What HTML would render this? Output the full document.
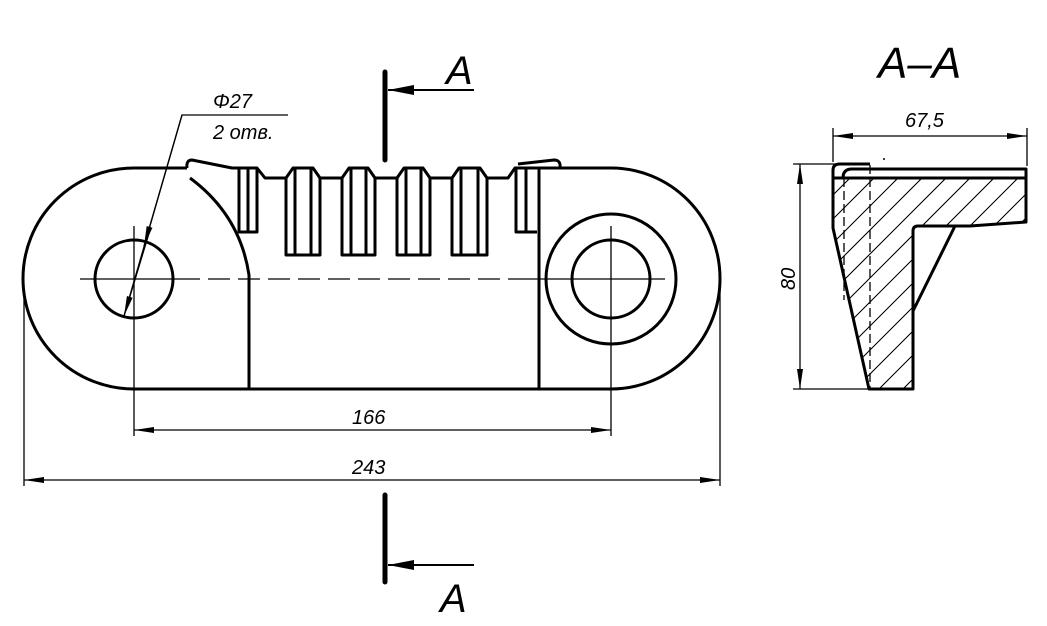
<!DOCTYPE html>
<html><head><meta charset="utf-8"><style>
html,body{margin:0;padding:0;background:#fff;}
svg{display:block;}
text{font-family:"Liberation Sans",sans-serif;font-style:italic;fill:#000;}
</style></head><body>
<svg width="1047" height="626" viewBox="0 0 1047 626" xmlns="http://www.w3.org/2000/svg">
<defs>
<marker id="ar" viewBox="0 0 20 6" refX="20" refY="3" markerWidth="20" markerHeight="6" markerUnits="userSpaceOnUse" orient="auto-start-reverse"><path d="M0,0 L20,3 L0,6 z" fill="#000"/></marker>
<marker id="ab" viewBox="0 0 26 10" refX="26" refY="5" markerWidth="26" markerHeight="10" markerUnits="userSpaceOnUse" orient="auto"><path d="M0,0 L26,5 L0,10 z" fill="#000"/></marker>
<clipPath id="sec"><path d="M833,178 L1026,178 L1026,222 L970,226 L918,226 Q913,226 913,231 L913,389 L869,389 L833,228 Z"/></clipPath>
</defs>
<g fill="none" stroke="#000">
<g stroke-width="3" stroke-linejoin="round">
<path d="M187,168 L134,168 A111,110.5 0 0 0 134,389 L611,389 A109,110.5 0 0 0 611,168 L560,168"/>
<path d="M187,168 Q186,160 192,160 L232,168 L238,168"/>
<path d="M190,178 Q240,215 249,275 L249,389"/>
<path d="M539,168 L539,389"/>
<path d="M518,164 L554,160 Q561,160 560,168 L539,168"/>
<circle cx="134" cy="279" r="39"/>
<circle cx="611" cy="279" r="39"/>
<circle cx="611" cy="279" r="65"/>
<path d="M238,168 L257,168 L265,178 L286,178 L293,168 L313,168 L320,178 L342,178 L349,168 L368,168 L375,178 L397,178 L404,168 L423,168 L430,178 L452,178 L459,168 L480,168 L487,178 L508,178 L515,168 L539,168"/>
<path d="M239,168 L239,232 L257,232 L257,168 M248,168 L248,232"/>
<path d="M516,168 L516,232 L537,232 M526,168 L526,232"/>
<path d="M286,178 L286,255 L320,255 L320,178 M295,168 L295,255 M311,168 L311,255"/>
<path d="M342,178 L342,255 L375,255 L375,178 M351,168 L351,255 M366,168 L366,255"/>
<path d="M397,178 L397,255 L430,255 L430,178 M406,168 L406,255 M421,168 L421,255"/>
<path d="M452,178 L452,255 L487,255 L487,178 M461,168 L461,255 M478,168 L478,255"/>
</g>
<g stroke-width="1.3">
<path d="M80,279 L178,279" />
<path d="M178,279 L520,279" stroke-dasharray="22,8"/>
<path d="M520,279 L665,279"/>
<path d="M134,226 L134,436 M611,226 L611,436"/>
<path d="M24,290 L24,486 M720,290 L720,486"/>
<path d="M134,430 L611,430" marker-start="url(#ar)" marker-end="url(#ar)"/>
<path d="M24,480 L720,480" marker-start="url(#ar)" marker-end="url(#ar)"/>
<path d="M288,115 L182,115 L124,316"/>
<path d="M182,115 L144,246" marker-end="url(#ar)"/>
<path d="M150,230 L124,316" marker-end="url(#ar)"/>
</g>
<path d="M385,72 L385,160 M385,495 L385,582" stroke-width="5" stroke-linecap="round"/>
<path d="M474,90 L388,90" stroke-width="2" marker-end="url(#ab)"/>
<path d="M474,565 L388,565" stroke-width="2" marker-end="url(#ab)"/>
<g clip-path="url(#sec)" stroke-width="1.1">
<path d="M554,450 L854,150 M578,450 L878,150 M602,450 L902,150 M626,450 L926,150 M650,450 L950,150 M674,450 L974,150 M698,450 L998,150 M722,450 L1022,150 M746,450 L1046,150 M770,450 L1070,150 M794,450 L1094,150 M818,450 L1118,150 M842,450 L1142,150 M866,450 L1166,150 M890,450 L1190,150 M914,450 L1214,150 M938,450 L1238,150 M962,450 L1262,150"/>
</g>
<g stroke-width="3" stroke-linejoin="round">
<path d="M833,178 L1026,178 L1026,222 L970,226 L918,226 Q913,226 913,231 L913,389 L869,389 L833,228 Z"/>
<path d="M833,178 L833,170 Q833,164 840,164 L870,164"/>
<path d="M843,178 Q843,169 852,169 L1026,169 L1026,178"/>
<path d="M955,226 L913,311"/>
</g>
<path d="M844,178 L844,300 M870,165 L870,389" stroke-width="1.3" stroke-dasharray="9,4"/>
<g stroke-width="1.3">
<path d="M833,128 L833,162 M1027,128 L1027,166"/>
<path d="M833,136 L1027,136" marker-start="url(#ar)" marker-end="url(#ar)"/>
<path d="M793,164 L870,164 M793,389 L869,389"/>
<path d="M800,164 L800,389" marker-start="url(#ar)" marker-end="url(#ar)"/>
</g>
</g>
<circle cx="884" cy="159" r="1" fill="#000"/>
<text x="446" y="84" font-size="40">A</text>
<text x="440" y="612" font-size="40">A</text>
<text x="878" y="78" font-size="44">A–A</text>
<text x="213" y="108" font-size="20">Φ27</text>
<text x="213" y="139" font-size="20">2 отв.</text>
<text x="352" y="424" font-size="20">166</text>
<text x="352" y="474" font-size="20">243</text>
<text x="905" y="127" font-size="20">67,5</text>
<text x="0" y="0" font-size="20" transform="translate(795,290) rotate(-90)">80</text>
</svg>
</body></html>
